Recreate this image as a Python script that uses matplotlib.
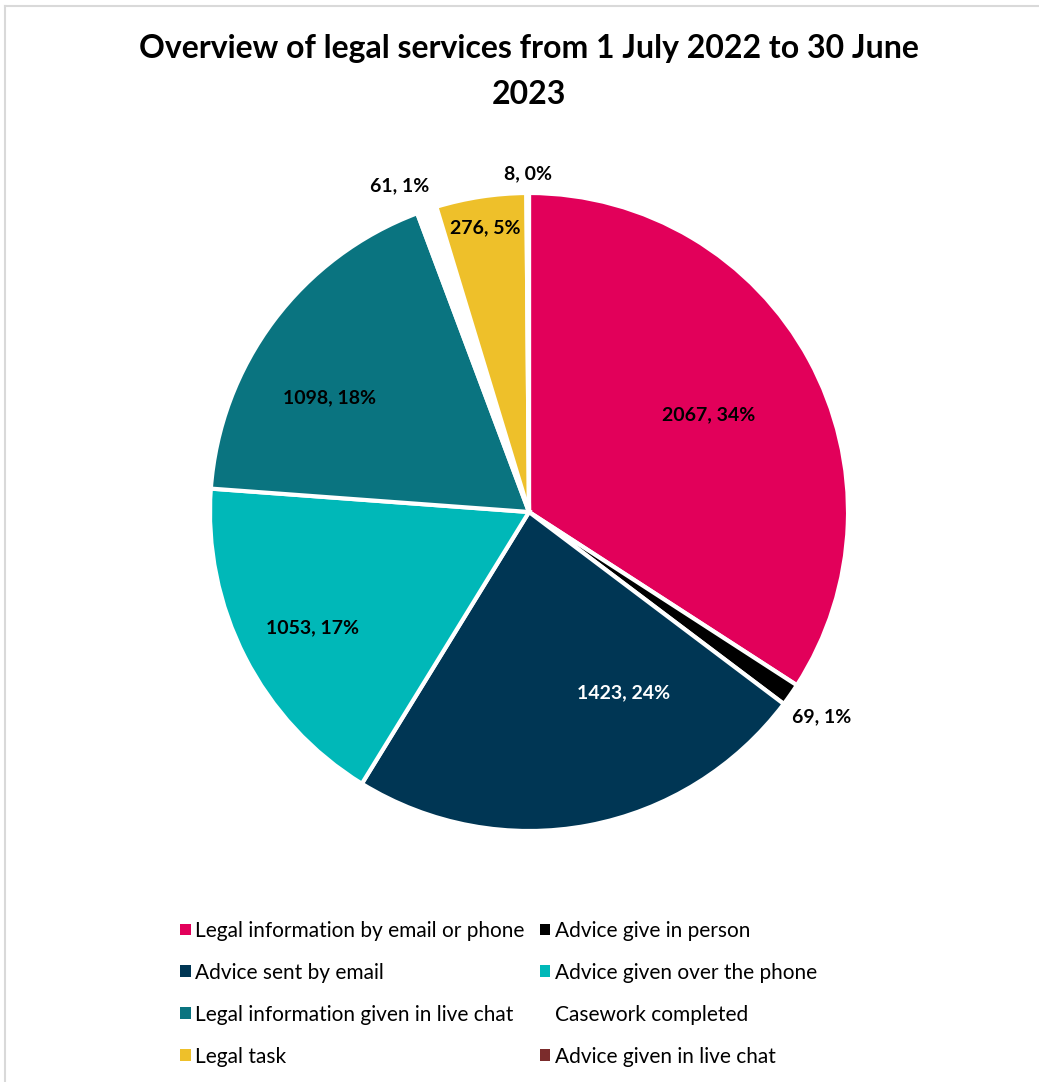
import matplotlib.pyplot as plt
from matplotlib.patches import Patch
from matplotlib.lines import Line2D
import numpy as np

# services and counts, clockwise from 12 o'clock
services = ['Legal information by email or phone', 'Advice give in person',
            'Advice sent by email', 'Advice given over the phone',
            'Legal information given in live chat', 'Casework completed',
            'Legal task', 'Advice given in live chat']
counts = [2067, 69, 1423, 1053, 1098, 61, 276, 8]
percent_labels = ['34%', '1%', '24%', '17%', '18%', '1%', '5%', '0%']

colors = ['#E2005A', '#000000', '#003654', '#00B8B8',
          '#0A7480', '#FFFFFF', '#EEC02A', '#7B2C2C']
label_colors = ['black', 'black', 'white', 'black', 'black', 'black', 'black', 'black']
# where each data label sits: radius (fraction of pie) and angle nudge in degrees
label_radius = [0.64, 1.12, 0.64, 0.77, 0.72, 1.10, 0.90, 1.06]
label_nudge = [0, 0, 17, 1, 7, 3, 0, 0]

plt.rcParams['font.family'] = ['Lato', 'DejaVu Sans']

fig = plt.figure(figsize=(10.39, 10.82), dpi=100)
ax = fig.add_axes([0.1407, 0.1730, 0.7369, 0.7076])

wedges, _ = ax.pie(counts, colors=colors, startangle=90, counterclock=False,
                   radius=1.0, wedgeprops=dict(edgecolor='white', linewidth=3))
ax.set_xlim(-1.2, 1.2)
ax.set_ylim(-1.2, 1.2)
ax.set_aspect('equal')
ax.axis('off')

for w, n, p, c, r, d in zip(wedges, counts, percent_labels, label_colors, label_radius, label_nudge):
    ang = np.deg2rad((w.theta1 + w.theta2) / 2 + d)
    ax.text(r * np.cos(ang), r * np.sin(ang), f'{n}, {p}', ha='center', va='center',
            fontsize=14, fontweight='bold', color=c)

fig.text(0.509, 0.969, 'Overview of legal services from 1 July 2022 to 30 June\n2023',
         ha='center', va='top', fontsize=23, fontweight='bold', linespacing=1.72)

# legend: Excel fills rows, matplotlib fills columns
order = [0, 2, 4, 6, 1, 3, 5, 7]
handles = []
for i in order:
    if services[i] == 'Casework completed':
        handles.append(Patch(facecolor='none', edgecolor='none', label=services[i]))
    else:
        handles.append(Patch(facecolor=colors[i], edgecolor='none', label=services[i]))
fig.legend(handles=handles, ncol=2, loc='upper left', bbox_to_anchor=(0.1635, 0.1585),
           frameon=False, fontsize=15, handlelength=0.5, handleheight=0.5,
           handletextpad=0.22, columnspacing=0.72, labelspacing=1.05, borderpad=0)

# chart border
fig.add_artist(Line2D([0.005, 1.0], [0.9945, 0.9945], color='#d9d9d9', lw=1.5))
fig.add_artist(Line2D([0.005, 0.005], [0.0, 0.9945], color='#d9d9d9', lw=1.5))

fig.savefig('out.png', dpi=100)
